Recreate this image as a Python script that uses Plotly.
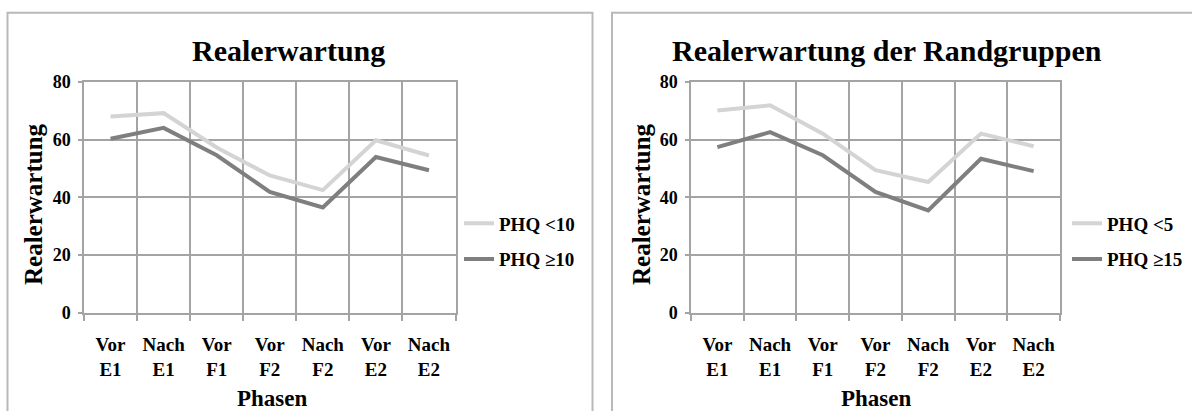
import plotly.graph_objects as go

categories = ["Vor<br>E1", "Nach<br>E1", "Vor<br>F1", "Vor<br>F2", "Nach<br>F2", "Vor<br>E2", "Nach<br>E2"]
left_title = "Realerwartung"
right_title = "Realerwartung der Randgruppen"
left_low = [68.0, 69.2, 57.3, 47.6, 42.5, 59.8, 54.5]     # PHQ <10
left_high = [60.3, 64.1, 54.6, 41.9, 36.5, 54.0, 49.4]    # PHQ >=10
right_low = [70.1, 71.9, 62.1, 49.4, 45.3, 62.1, 57.7]    # PHQ <5
right_high = [57.4, 62.6, 54.6, 41.9, 35.5, 53.4, 49.1]   # PHQ >=15
y_ticks = [0, 20, 40, 60, 80]

W, H = 1192, 411
LIGHT = "#d4d4d4"
DARK = "#7f7f7f"
GRID = "#a4a4a4"
FONT = "Liberation Serif"

def px(x):
    return x / W

def py(y):
    return 1 - y / H

fig = go.Figure()
fig.add_trace(go.Scatter(x=categories, y=left_low, mode="lines", name="PHQ <10",
                         line=dict(color=LIGHT, width=4), xaxis="x", yaxis="y",
                         legend="legend", legendgroup="a"))
fig.add_trace(go.Scatter(x=categories, y=left_high, mode="lines", name="PHQ ≥10",
                         line=dict(color=DARK, width=4), xaxis="x", yaxis="y",
                         legend="legend", legendgroup="b"))
fig.add_trace(go.Scatter(x=categories, y=right_low, mode="lines", name="PHQ <5",
                         line=dict(color=LIGHT, width=4), xaxis="x2", yaxis="y2",
                         legend="legend2", legendgroup="c"))
fig.add_trace(go.Scatter(x=categories, y=right_high, mode="lines", name="PHQ ≥15",
                         line=dict(color=DARK, width=4), xaxis="x2", yaxis="y2",
                         legend="legend2", legendgroup="d"))

ydom = [py(312.7), py(82)]

def xaxis_cfg(d0, d1, anchor):
    return dict(domain=[px(d0), px(d1)], anchor=anchor, type="category",
                range=[-0.5, 6.5], tickson="boundaries", ticks="outside", ticklen=7,
                tickcolor=GRID, tickwidth=1.5, showgrid=True, gridcolor=GRID, gridwidth=1.5,
                showline=True, linecolor=GRID, linewidth=1.5, mirror=True,
                tickfont=dict(family=FONT, size=19, color="black", weight="bold"),
                ticklabelstandoff=14, automargin=False, fixedrange=True)

def yaxis_cfg(anchor):
    return dict(domain=ydom, anchor=anchor, range=[0, 80], tickvals=y_ticks,
                ticks="outside", ticklen=4, tickcolor=GRID, tickwidth=1.5,
                showgrid=True, gridcolor=GRID, gridwidth=1.5, zeroline=False,
                showline=True, linecolor=GRID, linewidth=1.5, mirror=True,
                tickfont=dict(family=FONT, size=18, color="black", weight="bold"),
                ticklabelstandoff=4, automargin=False, fixedrange=True)

def ann(text, x, y, size, angle=0):
    return dict(text=text, x=px(x), y=py(y), xref="paper", yref="paper",
                xanchor="center", yanchor="middle", showarrow=False, textangle=angle,
                font=dict(family=FONT, size=size, color="black", weight="bold"))

annotations = [
    ann(left_title, 288, 51, 30),
    ann(right_title, 887, 51, 30),
    ann("Realerwartung", 33, 204, 25, -90),
    ann("Realerwartung", 641, 204, 25, -90),
    ann("Phasen", 272, 398, 23),
    ann("Phasen", 876, 398, 23),
]

shapes = [
    dict(type="rect", xref="paper", yref="paper", x0=px(7.5), x1=px(592.5),
         y0=-0.1, y1=py(12.7), line=dict(color="#b9b9b9", width=2)),
    dict(type="rect", xref="paper", yref="paper", x0=px(612), x1=1.05,
         y0=-0.1, y1=py(12.7), line=dict(color="#b9b9b9", width=2)),
]

legend_common = dict(font=dict(family=FONT, size=19, color="black", weight="bold"),
                     bgcolor="rgba(0,0,0,0)", traceorder="grouped", tracegroupgap=8,
                     xanchor="left", yanchor="middle", itemwidth=30)

fig.update_layout(
    width=W, height=H, margin=dict(l=0, r=0, t=0, b=0, autoexpand=False),
    paper_bgcolor="white", plot_bgcolor="white",
    font=dict(family=FONT, color="black"),
    xaxis=xaxis_cfg(84, 455.5, "y"), yaxis=yaxis_cfg("x"),
    xaxis2=xaxis_cfg(691, 1060, "y2"), yaxis2=yaxis_cfg("x2"),
    legend=dict(x=px(459), y=py(241.5), **legend_common),
    legend2=dict(x=px(1067), y=py(241.5), **legend_common),
    annotations=annotations, shapes=shapes,
    showlegend=True,
)

fig.write_html("out.html")
